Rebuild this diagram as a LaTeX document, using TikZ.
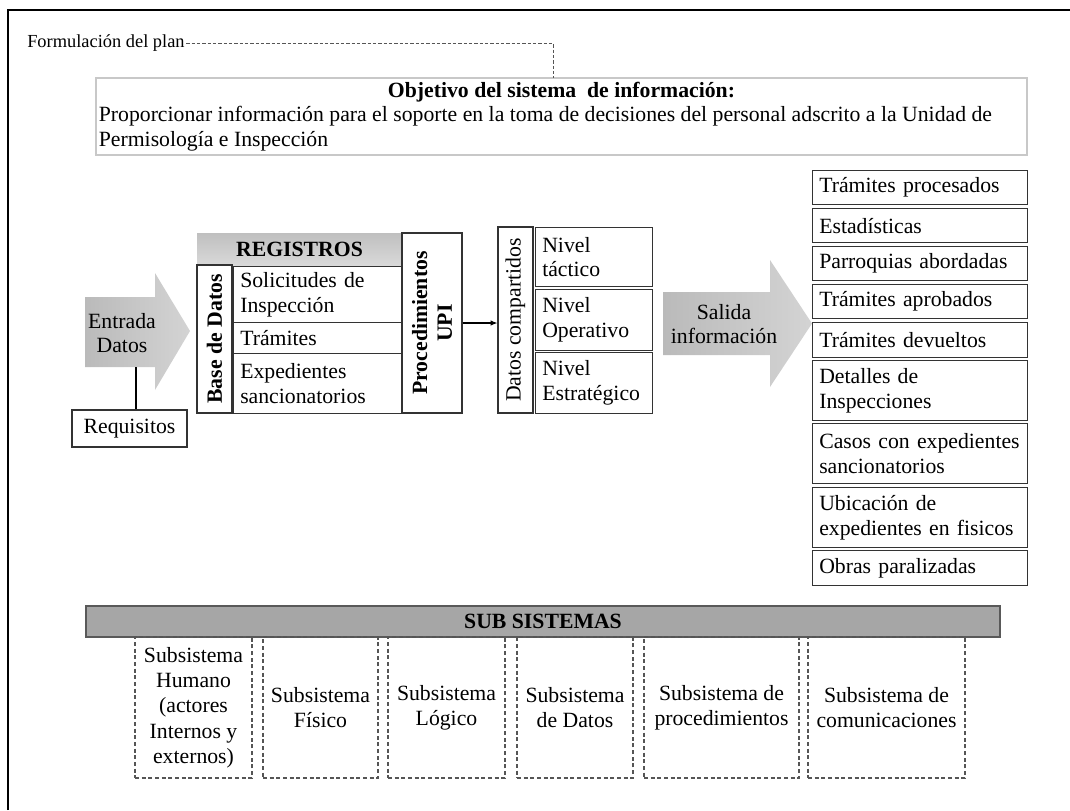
\documentclass[tikz,border=0pt]{standalone}
\usepackage{fontspec}
\setmainfont{Liberation Serif}
\usepackage{xcolor}
\definecolor{grisborde}{RGB}{200, 200, 200}
\definecolor{grisbarra}{RGB}{166, 166, 166}
\definecolor{grislinea}{RGB}{85, 85, 85}
\usetikzlibrary{arrows.meta}
\tikzset{
	dim/.style 2 args={minimum width=#1*0.75pt, minimum height=#2*0.75pt},
	caja/.style={draw=black!80, line width=0.9pt, inner sep=0pt, align=center},
	item/.style 2 args={draw=black!80, line width=0.9pt, inner xsep=5pt, inner ysep=0pt, align=left, anchor=north west, text width=#1*0.75pt-10pt, minimum height=#2*0.75pt},
	subsis/.style={draw=grislinea, line width=0.8pt, dash pattern=on 3pt off 2pt, inner sep=0pt, align=center},
	flecha/.style={left color=black!27, right color=black!17, draw=none},
	negrita/.style={font=\fontsize{16.3}{18.5}\selectfont\bfseries}
}

\begin{document}
\begin{tikzpicture}[x=0.75pt, y=-0.75pt, font=\fontsize{16.3}{18.5}\selectfont]
		\useasboundingbox (0,0) rectangle (1070,810);
		\draw[line width=1pt] (8,810) -- (8,10) -- (1070,10);
		% objetivo
		\node[anchor=west, inner sep=0pt, font=\fontsize{13.8}{16}\selectfont] (plan) at (27,43) {Formulación del plan};
		\node[draw=grisborde, line width=1.1pt, dim={931}{77}, inner sep=0pt, align=center] (obj) at (561.5,116.5) {\textbf{Objetivo del sistema\ \ de información:}\\ \makebox[694pt][l]{Proporcionar información para el soporte en la toma de decisiones del personal adscrito a la Unidad de}\\ \makebox[694pt][l]{Permisología e Inspección}};
		\coordinate (objtop) at (553,78);
		\draw[grislinea, line width=0.6pt, dash pattern=on 2.5pt off 1.5pt, shorten <=1pt] (plan.east) -| (objtop);
		% entrada
		\shade[flecha] (85,297) -- (155,297) -- (155,273) -- (190,331) -- (155,390) -- (155,367) -- (85,367) -- cycle;
		\node[align=center] (entrada) at (122,333) {Entrada\\Datos};
		\node[caja, dim={115}{37}] (req) at (129.5,428.5) {Requisitos};
		\coordinate (entradapie) at (136,367);
		\draw[line width=0.9pt] (entradapie) -- (entradapie |- req.north);
		% registros
		\node[negrita, top color=gray!50, bottom color=gray!30, dim={205}{32}, inner sep=0pt] (reg) at (299.5,249) {REGISTROS};
		\node[caja, negrita, rotate=90, dim={148}{35}] (bd) at (214.5,339) {Base de Datos};
		\node[item={169}{56}] (sol) at (233,266) {Solicitudes de\\Inspección};
		\node[item={169}{31}] (tra) at (233,322) {Trámites};
		\node[item={169}{60}] (exp) at (233,353) {Expedientes\\sancionatorios};
		\node[caja, negrita, rotate=90, dim={180}{60}] (proc) at (432,323) {Procedimientos\\UPI};
		% datos compartidos
		\node[caja, rotate=90, dim={186}{35}] (datos) at (515.5,320) {Datos compartidos};
		\draw[-{Latex[length=5pt,width=4pt]}, line width=0.8pt] (proc.south) -- (proc.south -| datos.north);
		\node[item={117}{59}] (tactico) at (535,227) {Nivel\\táctico};
		\node[item={117}{61}] (operativo) at (535,289) {Nivel\\Operativo};
		\node[item={117}{61}] (estrategico) at (535,352) {Nivel\\Estratégico};
		% salida
		\shade[flecha] (663,292) -- (770,292) -- (770,260) -- (812,323.5) -- (770,387) -- (770,355) -- (663,355) -- cycle;
		\node[align=center] (salida) at (724,324) {Salida\\información};
		\foreach \y/\h/\txt [count=\i] in {170/34/{Trámites procesados}, 208/34/{Estadísticas}, 246/34/{Parroquias abordadas}, 284/34/{Trámites aprobados}, 322/35/{Trámites devueltos}, 360/60/{Detalles de\\Inspecciones}, 423/60/{Casos con expedientes\\sancionatorios}, 487/60/{Ubicación de\\expedientes en fisicos}, 550/35/{Obras paralizadas}}
			\node[item={215}{\h}] (out\i) at (812,\y) {\txt};
		% sub sistemas
		\node[negrita, fill=grisbarra, draw=gray!70!black, line width=0.8pt, dim={914}{31}, inner sep=0pt] (sub) at (543,621.5) {SUB SISTEMAS};
		\foreach \x/\w/\txt [count=\i] in {193.5/117/{Subsistema\\Humano\\(actores\\Internos y\\externos)}, 320.5/115/{Subsistema\\Físico}, 446.5/117/{Subsistema\\Lógico}, 575/116/{Subsistema\\de Datos}, 721.5/155/{Subsistema de\\procedimientos}, 886.5/157/{Subsistema de\\comunicaciones}}
			\node[subsis, dim={\w}{141}, font=\fontsize{16.3}{19}\selectfont] (ss\i) at (\x,707.5) {\txt};
	\end{tikzpicture}
\end{document}
